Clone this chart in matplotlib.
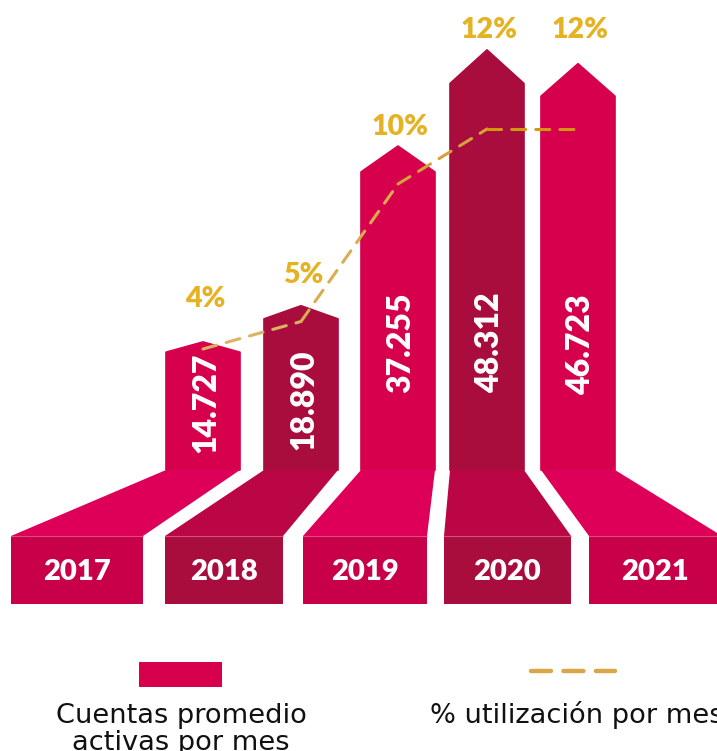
import matplotlib
matplotlib.use("Agg")
import matplotlib.pyplot as plt
from matplotlib.patches import Polygon, Rectangle
from matplotlib import font_manager

# ---------------- data ----------------
years = ["2017", "2018", "2019", "2020", "2021"]
cuentas = [14727, 18890, 37255, 48312, 46723]
cuentas_labels = ["14.727", "18.890", "37.255", "48.312", "46.723"]
utilizacion = [4, 5, 10, 12, 12]
utilizacion_labels = ["4%", "5%", "10%", "12%", "12%"]
legend_bar_label = ["Cuentas promedio", "activas por mes"]
legend_line_label = "% utilización por mes"

# ---------------- style / layout (pixels) ----------------
W, H = 717, 751
BASE_PX = 470          # pixel row of bar bottoms
UNITS_PER_PX = 115.0   # value units per pixel
TRAP_H = 66            # trapezoid height px
BOX_H = 68             # year box height px
bar_left = [166, 264, 361, 450, 541]
bar_w = 74
trap_bottom = [(11, 143), (165, 283), (303, 427), (444, 571), (589, 722)]
TIP_FRAC = 0.08
bright, dark = "#D6004C", "#A80D3D"
bar_colors = [bright, dark, bright, dark, bright]
trap_colors = ["#DE0058", "#BB0646", "#DE0058", "#BB0646", "#DE0058"]
box_colors = ["#C8004A", "#A80D3D", "#C8004A", "#A80D3D", "#C8004A"]
gold_text = "#E5B224"
line_seg_colors = ["#DBB462", "#D9AC52", "#D6A13A", "#D4950F"]
pct_gap_px = [35, 23, 11, 12, 26]
val_base_px = [17, 20, 77, 77, 75]

names = {f.name for f in font_manager.fontManager.ttflist}
heavy_lato = any(f.name == "Lato" and f.weight in (800, 900, "heavy", "black")
                 for f in font_manager.fontManager.ttflist)
BOLD = dict(family=["Lato", "DejaVu Sans"], weight=("heavy" if heavy_lato else "bold"))

fig = plt.figure(figsize=(W / 100, H / 100), dpi=100)
ax = fig.add_axes([0, 0, 1, 1])
ax.set_xlim(0, W)
ax.set_ylim(-(H - BASE_PX) * UNITS_PER_PX, BASE_PX * UNITS_PER_PX)
ax.axis("off")


def u(px):
    """pixel distance -> value units"""
    return px * UNITS_PER_PX


def row(p):
    """pixel row from top -> value coordinate"""
    return (BASE_PX - p) * UNITS_PER_PX


centers = []
for i, v in enumerate(cuentas):
    l = bar_left[i]
    r = l + bar_w
    c = (l + r) / 2
    centers.append(c)
    shoulder = v * (1 - TIP_FRAC)
    ax.add_patch(Polygon([(l, 0), (r, 0), (r, shoulder), (c, v), (l, shoulder)],
                         closed=True, facecolor=bar_colors[i], edgecolor=bar_colors[i],
                         linewidth=1.2, joinstyle="round", zorder=2))
    bl, br = trap_bottom[i]
    ax.add_patch(Polygon([(l, 0), (r, 0), (br, -u(TRAP_H)), (bl, -u(TRAP_H))],
                         closed=True, facecolor=trap_colors[i], edgecolor="none", zorder=2))
    ax.add_patch(Rectangle((bl, -u(TRAP_H + BOX_H)), br - bl, u(BOX_H),
                           facecolor=box_colors[i], edgecolor="none", zorder=2))
    ax.plot([bl, br], [-u(TRAP_H), -u(TRAP_H)], color="#EC6D98", lw=0.8, alpha=0.7, zorder=3)
    # year label
    ax.text((bl + br) / 2, -u(TRAP_H + BOX_H / 2 + 10.5), years[i], color="white",
            fontsize=21, ha="center", va="baseline", zorder=4, **BOLD)
    # value label
    ax.text(c + 3, u(val_base_px[i]), cuentas_labels[i], color="white", rotation=90,
            fontsize=23, ha="center", va="bottom", zorder=4, **BOLD)
    # percentage label
    ax.text(c + 2, v + u(pct_gap_px[i]), utilizacion_labels[i], color=gold_text,
            fontsize=20.5, ha="center", va="baseline", zorder=4, **BOLD)

# utilisation line on its own scale
ax2 = ax.twinx()
PCT_PX = 27.5
P0_PX = 349  # pixel row of 4%
ax2.set_ylim(4 - (H - P0_PX) / PCT_PX, 4 + P0_PX / PCT_PX)
ax2.axis("off")
for k in range(len(utilizacion) - 1):
    ax2.plot(centers[k:k + 2], utilizacion[k:k + 2], color=line_seg_colors[k], lw=2.2,
             dashes=(4.6, 3.3), dash_capstyle="round", zorder=5)

# legend
ax.add_patch(Rectangle((139, row(687)), 83, u(25), facecolor=bright, edgecolor="none"))
ax.plot([531, 615], [row(671), row(671)], color="#D8A848", lw=3.2,
        dashes=(4.5, 2.8), dash_capstyle="round")
REG = dict(family=["DejaVu Sans"], fontsize=19.6, color="#111111")
ax.text(181, row(723), legend_bar_label[0], ha="center", va="baseline", **REG)
ax.text(181, row(750), legend_bar_label[1], ha="center", va="baseline", **REG)
ax.text(430, row(723), legend_line_label, ha="left", va="baseline", **REG)

fig.savefig("out.png", dpi=100)
